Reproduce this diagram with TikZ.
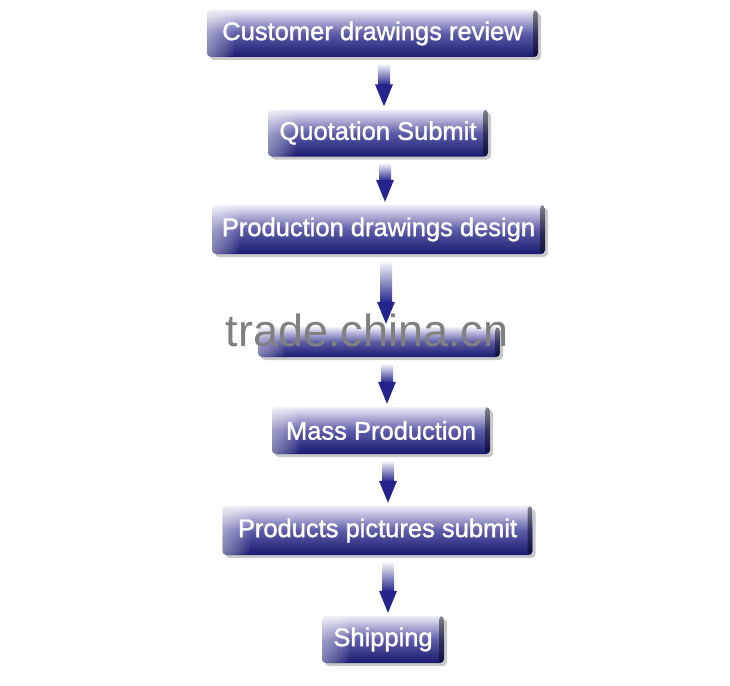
\documentclass[tikz,border=0pt]{standalone}
\usepackage{fontspec}
\setmainfont{Liberation Sans}
\newfontfamily\boxfont{Liberation Sans}[FakeBold=1.4]
\usetikzlibrary{calc,shadows}

\definecolor{boxtop}{RGB}{238,238,250}
\definecolor{boxmid}{RGB}{92,92,168}
\definecolor{boxbot}{RGB}{26,26,112}
\definecolor{arrowblue}{RGB}{36,36,140}
\definecolor{markgray}{RGB}{128,128,128}

\tikzset{
	stepbox/.style={rectangle, rounded corners=4pt, minimum height=47pt, inner sep=0pt,
		top color=boxtop, bottom color=boxbot, middle color=boxmid,
		text=white, font=\boxfont\fontsize{25.5}{30}\selectfont,
		drop shadow={shadow xshift=3pt, shadow yshift=-3pt, opacity=.35, fill=black!60},
		path picture={
			\foreach \i in {1,...,9}
				\fill[white, opacity=.06]
					(path picture bounding box.south west) rectangle ([xshift=3*\i pt]path picture bounding box.north west);
			\fill[black, opacity=.45]
				([xshift=-5pt]path picture bounding box.south east) rectangle (path picture bounding box.north east);
		}},
	watermark/.style={font=\fontsize{45}{50}\selectfont, text=markgray, anchor=base}
}

\begin{document}
\begin{tikzpicture}[x=1pt, y=-1pt]
	
	\fill[white] (0,0) rectangle (730,685);
	\useasboundingbox (0,0) rectangle (730,685);
	
	\node[stepbox, minimum width=331pt] (cust)  at (372.5, 33.5)  {Customer drawings review};
	\node[stepbox, minimum width=220pt] (quot)  at (378, 133)     {Quotation Submit};
	\node[stepbox, minimum width=333pt, minimum height=49pt] (prod) at (378.5, 229.5) {Production drawings design};
	\node[stepbox, minimum width=242pt, minimum height=30pt] (blank) at (379, 342) {};
	\node[stepbox, minimum width=218pt] (mass)  at (381, 430.5)   {Mass Production};
	\node[stepbox, minimum width=310pt, minimum height=49pt] (pics) at (377.5, 530.5) {Products pictures submit};
	\node[stepbox, minimum width=122pt] (ship)  at (383, 639.5)   {Shipping};
	
	\node[watermark] (mark) at (367, 346) {trade.china.cn};
	
	\foreach \a/\b/\x in {cust/quot/384, quot/prod/385, prod/blank/386, blank/mass/387, mass/pics/388, pics/ship/388}{
		\coordinate (ax) at (\x, 0);
		\shade[top color=white, bottom color=arrowblue]
			($(ax |- \a.south)+(-6,6)$) rectangle ($(ax |- \b.north)+(6,-24)$);
		\fill[arrowblue] ($(ax |- \b.north)+(-9,-25)$) -- ($(ax |- \b.north)+(9,-25)$)
			-- ($(ax |- \b.north)+(0,-3)$) -- cycle;
	}

\end{tikzpicture}
\end{document}
